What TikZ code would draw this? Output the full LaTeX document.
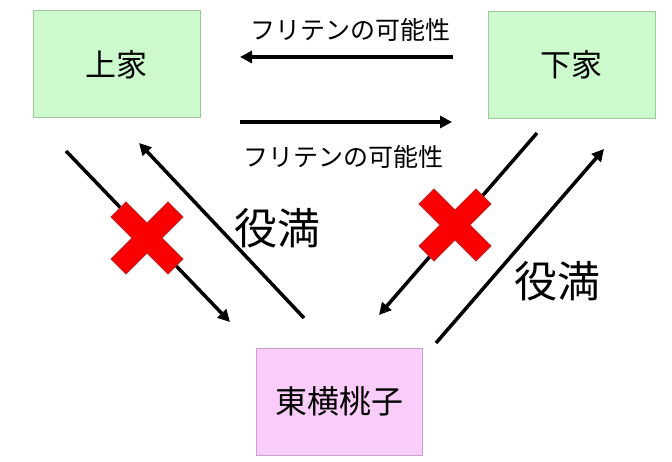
\documentclass[tikz,border=0pt]{standalone}
\usepackage{fontspec}
\setmainfont{Noto Sans CJK JP}
\usepackage{tikz}
\usetikzlibrary{arrows.meta}

\definecolor{boxgreen}{RGB}{204,250,204}
\definecolor{edgegreen}{RGB}{160,200,160}
\definecolor{boxpink}{RGB}{250,204,250}
\definecolor{edgepink}{RGB}{200,160,200}
\definecolor{crossred}{RGB}{250,0,0}
\definecolor{crossedge}{RGB}{190,40,40}

\begin{document}
\begin{tikzpicture}[x=1pt, y=-1pt,
        player/.style={draw=edgegreen, fill=boxgreen, line width=1pt, minimum width=167pt, minimum height=107pt, font=\fontsize{31}{31}\selectfont},
        self/.style={draw=edgepink, fill=boxpink, line width=1pt, minimum width=166pt, minimum height=107pt, font=\fontsize{32}{32}\selectfont},
        flow/.style={line width=3.5pt, -{Triangle[length=12pt, width=12pt]}},
        note/.style={font=\fontsize{25}{25}\selectfont},
        yaku/.style={font=\fontsize{43}{43}\selectfont},
        cross/.style={fill=crossred, draw=crossedge, line width=0.8pt}]
        \useasboundingbox (0,0) rectangle (672,462);

        \node[player] (kamicha) at (116.5,64.5) {上家};
        \node[player] (shimocha) at (571.5,65) {下家};
        \node[self] (momoko) at (339,401.5) {東横桃子};

        \coordinate (top1) at (453,57);
        \coordinate (top2) at (240,57);
        \coordinate (mid1) at (240,122);
        \coordinate (mid2) at (452,122);
        \coordinate (la1) at (66,151);
        \coordinate (la2) at (230,322);
        \coordinate (lb1) at (304,318);
        \coordinate (lb2) at (139,143);
        \coordinate (ra1) at (537,133);
        \coordinate (ra2) at (379,315);
        \coordinate (rb1) at (436,343);
        \coordinate (rb2) at (604,149);

        \draw[flow] (top1) -- (top2);
        \draw[flow] (mid1) -- (mid2);
        \draw[flow] (la1) -- (la2);
        \draw[flow] (lb1) -- (lb2);
        \draw[flow] (ra1) -- (ra2);
        \draw[flow] (rb1) -- (rb2);

        \node[note] (furiten1) at (350,30) {フリテンの可能性};
        \node[note] (furiten2) at (343,157) {フリテンの可能性};
        \node[yaku] (yakuman1) at (277,228) {役満};
        \node[yaku] (yakuman2) at (557,281) {役満};

        \draw[cross, shift={(147,238)}, rotate=45] (-10.6,-40.3) -- (10.6,-40.3) -- (10.6,-10.6) -- (40.3,-10.6) -- (40.3,10.6) -- (10.6,10.6) -- (10.6,40.3) -- (-10.6,40.3) -- (-10.6,10.6) -- (-40.3,10.6) -- (-40.3,-10.6) -- (-10.6,-10.6) -- cycle;
        \draw[cross, shift={(455,225)}, rotate=45] (-10.6,-40.3) -- (10.6,-40.3) -- (10.6,-10.6) -- (40.3,-10.6) -- (40.3,10.6) -- (10.6,10.6) -- (10.6,40.3) -- (-10.6,40.3) -- (-10.6,10.6) -- (-40.3,10.6) -- (-40.3,-10.6) -- (-10.6,-10.6) -- cycle;
    \end{tikzpicture}
\end{document}
